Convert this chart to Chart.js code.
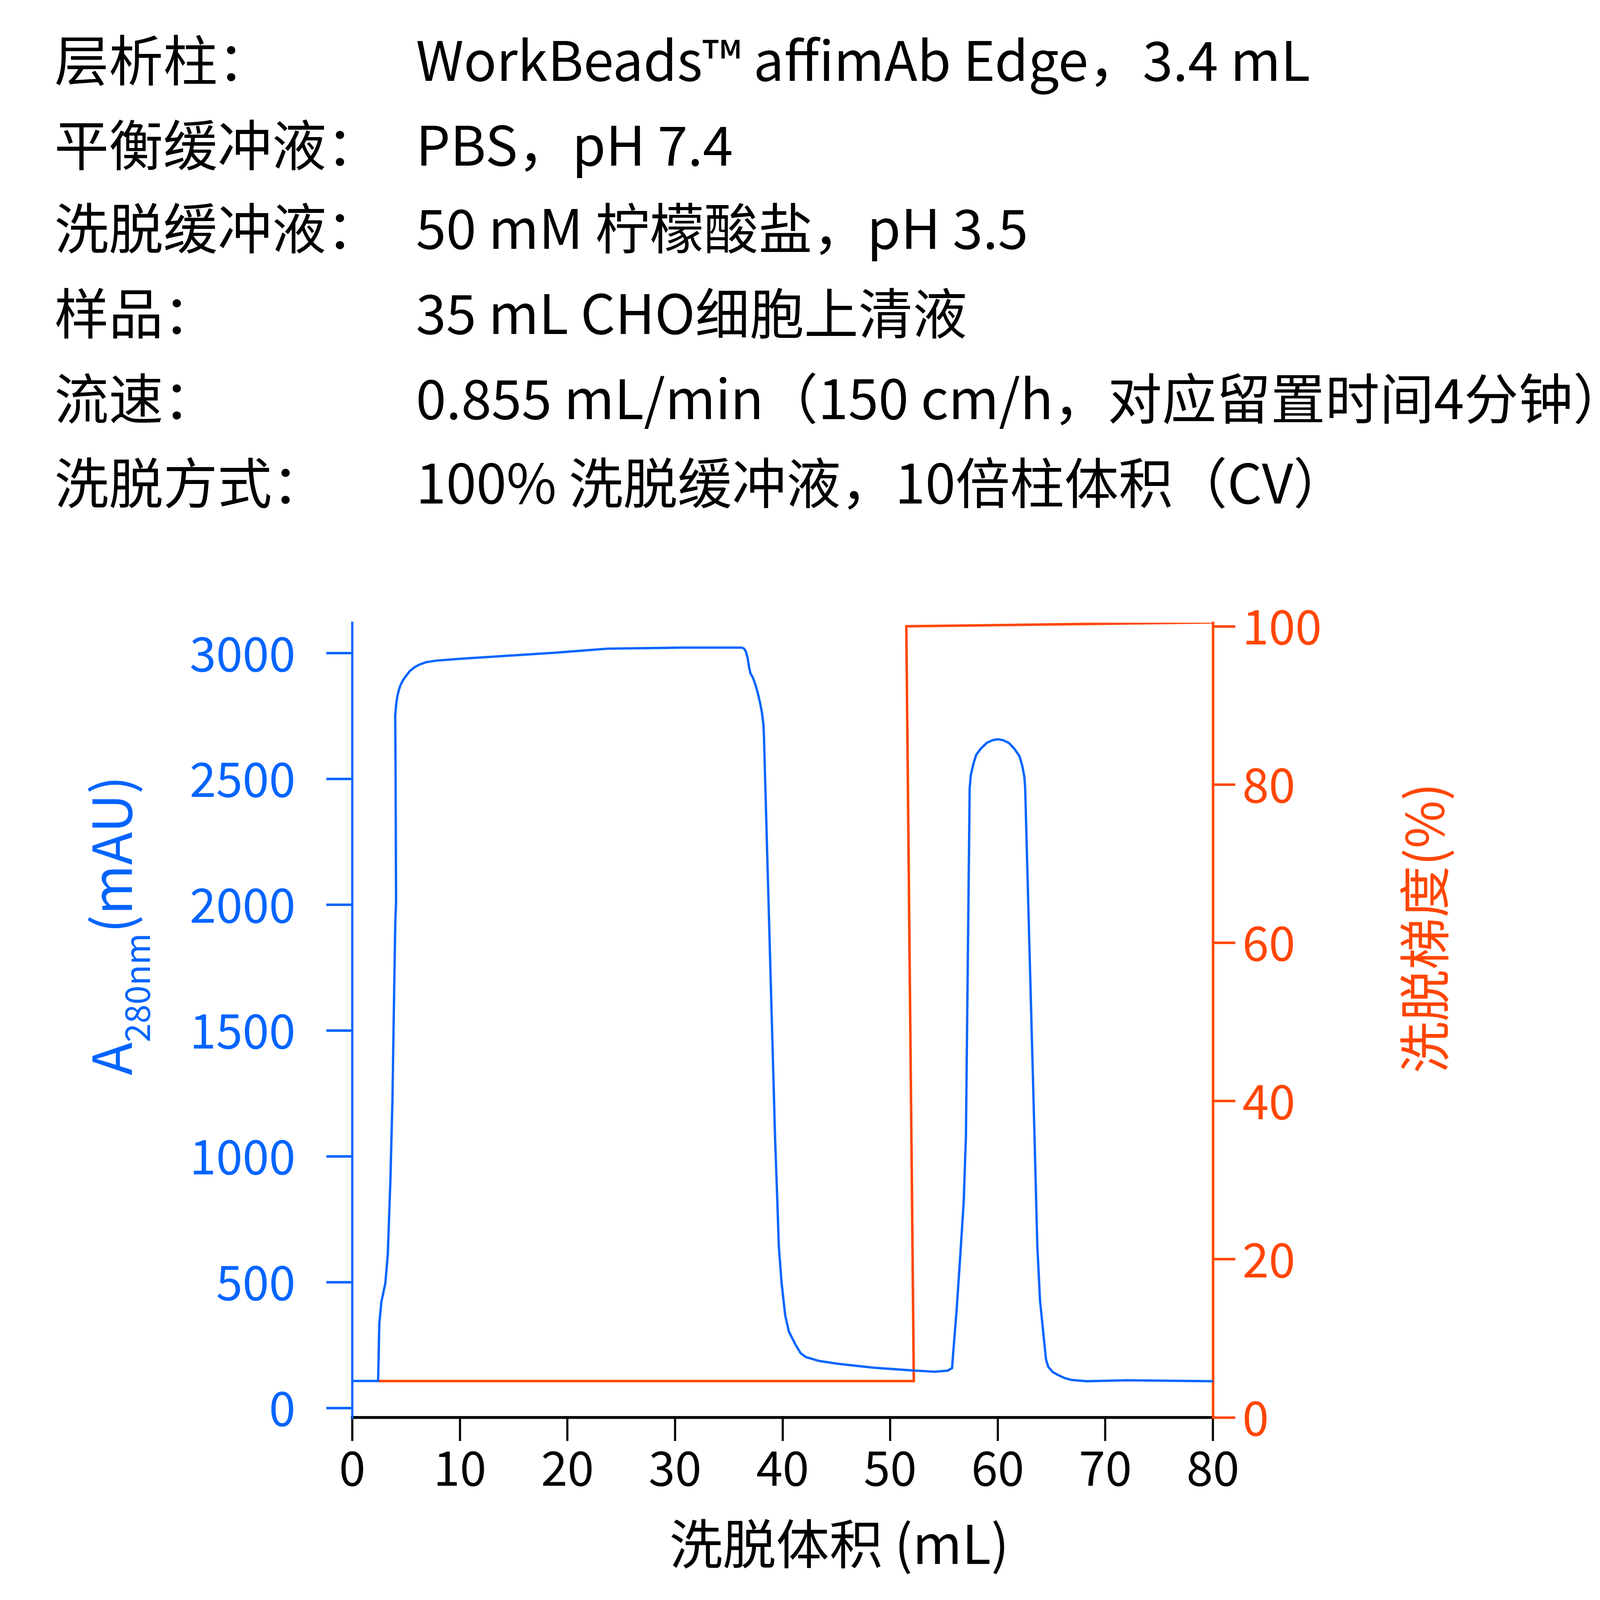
<!DOCTYPE html>
<html>
<head>
<meta charset="utf-8">
<script src="https://cdn.jsdelivr.net/npm/chart.js@4.4.1/dist/chart.umd.min.js"></script>
<style>
  html, body { margin: 0; padding: 0; background: #fff; overflow: hidden; }
  #wrap { position: relative; overflow: hidden; }
  canvas { position: absolute; left: 0; top: 0; }
  #header { position: absolute; left: 0; top: 0; width: 4501px; height: 1600px; transform-origin: 0 0; }
  .row { position: absolute; left: 0; width: 4501px; height: 153px;
         font-family: "Noto Sans CJK SC", sans-serif; font-size: 153px; line-height: 153px;
         white-space: nowrap; color: #000; }
  .row span { position: absolute; top: 0; }
</style>
</head>
<body>
<div id="wrap">
  <canvas id="myChart" width="4501" height="4518"></canvas>
  <div id="header"></div>
</div>
<script>
// 表头文字
const headerLabels = ['层析柱：', '平衡缓冲液：', '洗脱缓冲液：', '样品：', '流速：', '洗脱方式：'];
const headerValues = [
  'WorkBeads™ affimAb Edge，3.4 mL',
  'PBS，pH 7.4',
  '50 mM 柠檬酸盐，pH 3.5',
  '35 mL CHO细胞上清液',
  '0.855 mL/min（150 cm/h，对应留置时间4分钟）',
  '100% 洗脱缓冲液，10倍柱体积（CV）'
];

// A280 曲线 (mL, mAU)
const volumeA280 = [0, 2.4, 2.51, 2.7, 3.07, 3.3, 3.54, 3.73, 3.9, 4.0, 4.07, 4.02, 3.99, 4.1, 4.19,
  4.34, 4.49, 4.72, 5.02, 5.37, 5.82, 6.26, 6.85, 7.73, 10.1, 18.9, 20.7, 23.7, 30.7,
  36.21, 36.42, 36.57, 36.75, 36.89, 37.01, 37.24, 37.48, 37.69, 37.9, 38.07, 38.22, 38.27,
  39.3, 39.48, 39.65, 39.9, 40.24, 40.58, 41.17, 41.67, 42.17, 43.36, 45.04, 48.4, 52.1,
  54.15, 55.33, 55.75, 55.91, 56.18, 56.52, 56.84, 56.98, 57.04, 57.39, 57.49, 57.76, 58.0,
  58.43, 59.0, 59.52, 60.0, 60.52, 61.04, 61.53, 62.03, 62.28, 62.48, 62.55, 63.42, 63.68,
  63.93, 64.44, 64.5, 64.7, 65.1, 65.6, 66.2, 66.9, 68.3, 72.0, 80.0];
const absA280 = [107, 107, 334, 421, 495, 610, 902, 1217, 1680, 1933, 2010, 2565, 2754, 2804, 2829,
  2855, 2874, 2893, 2911, 2930, 2945, 2955, 2964, 2970, 2978, 3002, 3008, 3018, 3022,
  3022, 3018, 3008, 2981, 2943, 2920, 2903, 2874, 2842, 2804, 2766, 2716, 2665,
  1075, 859, 643, 499, 369, 304, 254, 218, 202, 187, 176, 160, 149,
  144, 148, 158, 246, 391, 607, 823, 1003, 1075, 2463, 2514, 2564, 2596,
  2621, 2644, 2654, 2658, 2654, 2643, 2621, 2590, 2552, 2507, 2463, 1075, 643,
  427, 211, 190, 163, 143, 131, 119, 111, 106, 110, 106];

// 洗脱梯度 (mL, %)
const volumeGradient = [2.4, 52.2, 51.5, 80];
const gradientPct = [4.6, 4.6, 100, 100.5];

// 刻度
const xTicks = [0, 10, 20, 30, 40, 50, 60, 70, 80];
const leftTicks = [0, 500, 1000, 1500, 2000, 2500, 3000];
const rightTicks = [0, 20, 40, 60, 80, 100];

const BLUE = '#0064ff';
const RED = '#ff4500';
const FONT = '"Noto Sans CJK SC", sans-serif';

// 视口比画面小时整体缩小，使截图正好是 4501 x 4518
const W = 4501, H = 4518;
const S = (window.innerWidth || W) / W;
const wrap = document.getElementById('wrap');
wrap.style.width = (W * S) + 'px';
wrap.style.height = (H * S) + 'px';
const canvas = document.getElementById('myChart');
canvas.style.width = (W * S) + 'px';
canvas.style.height = (H * S) + 'px';

// 表头
const header = document.getElementById('header');
header.style.transform = `scale(${S})`;
const rowTops = [84, 323, 557, 797, 1036, 1273];
headerLabels.forEach((label, i) => {
  const row = document.createElement('div');
  row.className = 'row';
  row.style.top = rowTops[i] + 'px';
  row.innerHTML = `<span style="left:153px">${label}</span><span style="left:1170px">${headerValues[i]}</span>`;
  header.appendChild(row);
});

// 坐标轴标题
const axisTitles = {
  id: 'axisTitles',
  afterDraw(chart) {
    const ctx = chart.ctx;
    ctx.save();
    ctx.textBaseline = 'alphabetic';
    ctx.textAlign = 'left';

    // 左轴: A280nm(mAU)
    ctx.save();
    ctx.translate(371, 3025);
    ctx.rotate(-Math.PI / 2);
    ctx.fillStyle = BLUE;
    ctx.font = '152px ' + FONT;
    ctx.fillText('A', 0, 0);
    let w = ctx.measureText('A').width;
    ctx.font = '96px ' + FONT;
    ctx.fillText('280nm', w, 51);
    w += ctx.measureText('280nm').width;
    ctx.font = '152px ' + FONT;
    ctx.fillText('(mAU)', w, 0);
    ctx.restore();

    // 右轴: 洗脱梯度(%)
    ctx.save();
    ctx.translate(4062, 3020);
    ctx.rotate(-Math.PI / 2);
    ctx.fillStyle = RED;
    ctx.font = '146px ' + FONT;
    ctx.fillText('洗脱梯度(%)', 0, 0);
    ctx.restore();

    // 下轴
    ctx.fillStyle = '#000';
    ctx.font = '150px ' + FONT;
    ctx.fillText('洗脱体积 (mL)', 1883, 4400);
    ctx.restore();
  }
};

const plain = v => String(v);

new Chart(canvas.getContext('2d'), {
  type: 'scatter',
  data: {
    datasets: [{
      label: 'A280',
      data: volumeA280.map((x, i) => ({ x: x, y: absA280[i] })),
      yAxisID: 'yA',
      showLine: true,
      borderColor: BLUE,
      borderWidth: 6.5,
      borderJoinStyle: 'round',
      pointRadius: 0,
      tension: 0
    }, {
      label: '梯度',
      data: volumeGradient.map((x, i) => ({ x: x, y: gradientPct[i] })),
      yAxisID: 'yB',
      showLine: true,
      borderColor: RED,
      borderWidth: 7,
      pointRadius: 0,
      tension: 0
    }]
  },
  options: {
    responsive: false,
    animation: false,
    devicePixelRatio: 1,
    layout: { padding: { top: 1752, left: 0, right: 0, bottom: 0 } },
    plugins: { legend: { display: false }, tooltip: { enabled: false } },
    scales: {
      x: {
        type: 'linear',
        position: 'bottom',
        min: 0,
        max: 80,
        afterBuildTicks: scale => { scale.ticks = xTicks.map(v => ({ value: v })); },
        afterFit: scale => { scale.height = 530; },
        grid: { drawOnChartArea: false, drawTicks: true, tickLength: 66, color: '#000', lineWidth: 6 },
        border: { color: '#000', width: 8 },
        ticks: { color: '#000', font: { family: FONT, size: 134 }, padding: -5, maxRotation: 0, callback: plain }
      },
      yA: {
        type: 'linear',
        position: 'left',
        min: -38,
        max: 3121,
        afterBuildTicks: scale => { scale.ticks = leftTicks.map(v => ({ value: v })); },
        afterFit: scale => { scale.width = 991; },
        grid: { drawOnChartArea: false, drawTicks: true, tickLength: 73, color: BLUE, lineWidth: 7 },
        border: { color: BLUE, width: 6 },
        ticks: { color: BLUE, font: { family: FONT, size: 134 }, padding: 87, callback: plain }
      },
      yB: {
        type: 'linear',
        position: 'right',
        min: 0,
        max: 100.45,
        afterBuildTicks: scale => { scale.ticks = rightTicks.map(v => ({ value: v })); },
        afterFit: scale => { scale.width = 1089; },
        grid: { drawOnChartArea: false, drawTicks: true, tickLength: 63, color: RED, lineWidth: 7 },
        border: { color: RED, width: 7 },
        ticks: { color: RED, font: { family: FONT, size: 134 }, padding: 20, callback: plain }
      }
    }
  },
  plugins: [axisTitles]
});
</script>
</body>
</html>
